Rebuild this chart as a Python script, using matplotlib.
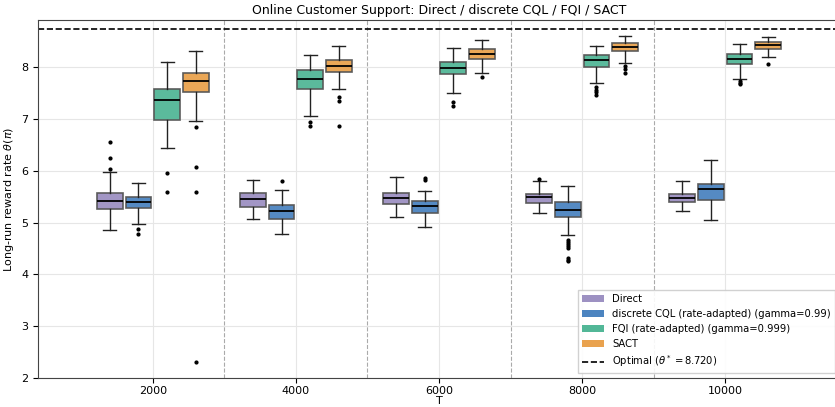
import matplotlib

matplotlib.use("Agg")
import matplotlib.pyplot as plt
from matplotlib.lines import Line2D
from matplotlib.patches import Patch

T_labels = ["2000", "4000", "6000", "8000", "10000"]
methods = [
    "Direct",
    "discrete CQL (rate-adapted) (gamma=0.99)",
    "FQI (rate-adapted) (gamma=0.999)",
    "SACT",
]
colors = ["#9d91c2", "#4c84c0", "#52b797", "#e9a24e"]
theta_opt = 8.720

# box stats per method, one entry per T: (whislo, q1, med, q3, whishi)
direct_stats = [
    (4.86, 5.26, 5.42, 5.56, 5.98),
    (5.07, 5.30, 5.45, 5.57, 5.82),
    (5.11, 5.36, 5.47, 5.57, 5.88),
    (5.18, 5.37, 5.49, 5.54, 5.79),
    (5.22, 5.39, 5.48, 5.55, 5.79),
]
cql_stats = [
    (4.97, 5.27, 5.40, 5.50, 5.76),
    (4.78, 5.07, 5.22, 5.34, 5.63),
    (4.91, 5.18, 5.31, 5.41, 5.60),
    (4.75, 5.11, 5.25, 5.39, 5.71),
    (5.05, 5.43, 5.64, 5.75, 6.20),
]
fqi_stats = [
    (6.43, 6.97, 7.36, 7.58, 8.09),
    (7.05, 7.58, 7.76, 7.94, 8.22),
    (7.49, 7.86, 7.98, 8.10, 8.37),
    (7.69, 8.00, 8.13, 8.22, 8.40),
    (7.77, 8.05, 8.14, 8.24, 8.44),
]
sact_stats = [
    (6.95, 7.51, 7.73, 7.88, 8.31),
    (7.58, 7.89, 8.01, 8.12, 8.39),
    (7.88, 8.15, 8.24, 8.34, 8.51),
    (8.07, 8.30, 8.38, 8.46, 8.59),
    (8.18, 8.34, 8.42, 8.48, 8.57),
]

direct_fliers = [[6.04, 6.24, 6.56], [], [], [5.84], []]
cql_fliers = [
    [4.88, 4.78],
    [5.80],
    [5.86, 5.82],
    [4.66, 4.62, 4.58, 4.55, 4.50, 4.32, 4.28, 4.26],
    [],
]
fqi_fliers = [
    [5.95, 5.58],
    [6.93, 6.86],
    [7.32, 7.24],
    [7.61, 7.56, 7.51, 7.46],
    [7.73, 7.69, 7.66],
]
sact_fliers = [
    [6.83, 6.07, 5.58, 2.31],
    [7.42, 7.34, 6.86],
    [7.81],
    [8.01, 7.95, 7.88],
    [8.05],
]

all_stats = [direct_stats, cql_stats, fqi_stats, sact_stats]
all_fliers = [direct_fliers, cql_fliers, fqi_fliers, sact_fliers]
offsets = [-0.3, -0.1, 0.1, 0.3]

fig = plt.figure(figsize=(8.35, 4.07), dpi=100)
ax = fig.add_axes([0.0459, 0.0705, 0.9597, 0.8804])

for m in range(len(methods)):
    stats = []
    for i in range(len(T_labels)):
        lo, q1, med, q3, hi = all_stats[m][i]
        stats.append(
            dict(whislo=lo, q1=q1, med=med, q3=q3, whishi=hi, fliers=all_fliers[m][i])
        )
    pos = [i + offsets[m] for i in range(len(T_labels))]
    ax.bxp(
        stats,
        positions=pos,
        widths=0.18,
        patch_artist=True,
        manage_ticks=False,
        boxprops=dict(facecolor=colors[m], edgecolor="#555555", linewidth=1.2, alpha=0.95),
        medianprops=dict(color="black", linewidth=1.3),
        whiskerprops=dict(color="#222222", linewidth=1.0),
        capprops=dict(color="#222222", linewidth=1.0),
        flierprops=dict(marker="o", markersize=2, markerfacecolor="black",
                        markeredgecolor="black", linestyle="none"),
    )

for b in [0.5, 1.5, 2.5, 3.5]:
    ax.axvline(b, color="#aaaaaa", linestyle="--", linewidth=0.8, zorder=0)

ax.axhline(theta_opt, color="black", linestyle="--", linewidth=1.2)

ax.set_xticks(range(len(T_labels)))
ax.set_xticklabels(T_labels, fontsize=8)
ax.tick_params(axis="y", labelsize=8)
ax.tick_params(axis="x", pad=2)
ax.set_xlim(-0.8, 4.8)
ax.set_ylim(2.0, 8.9)
ax.set_yticks([2, 3, 4, 5, 6, 7, 8])
ax.grid(True, color="#e6e6e6", linewidth=0.8, zorder=0)
ax.set_axisbelow(True)
ax.set_xlabel("T", fontsize=8, labelpad=0)
ax.set_ylabel(r"Long-run reward rate $\theta(\pi)$", fontsize=8)
ax.set_title("Online Customer Support: Direct / discrete CQL / FQI / SACT", fontsize=9, pad=4)
for s in ax.spines.values():
    s.set_color("#444444")

handles = [Patch(facecolor=c, edgecolor="none") for c in colors]
handles.append(Line2D([0], [0], color="black", linestyle="--", linewidth=1.2))
labels = methods + [r"Optimal ($\theta^*=8.720$)"]
ax.legend(handles, labels, loc="lower right", fontsize=7.2, framealpha=0.9,
          fancybox=False, edgecolor="#cccccc", handlelength=2.2)

fig.savefig("out.png", dpi=100)
